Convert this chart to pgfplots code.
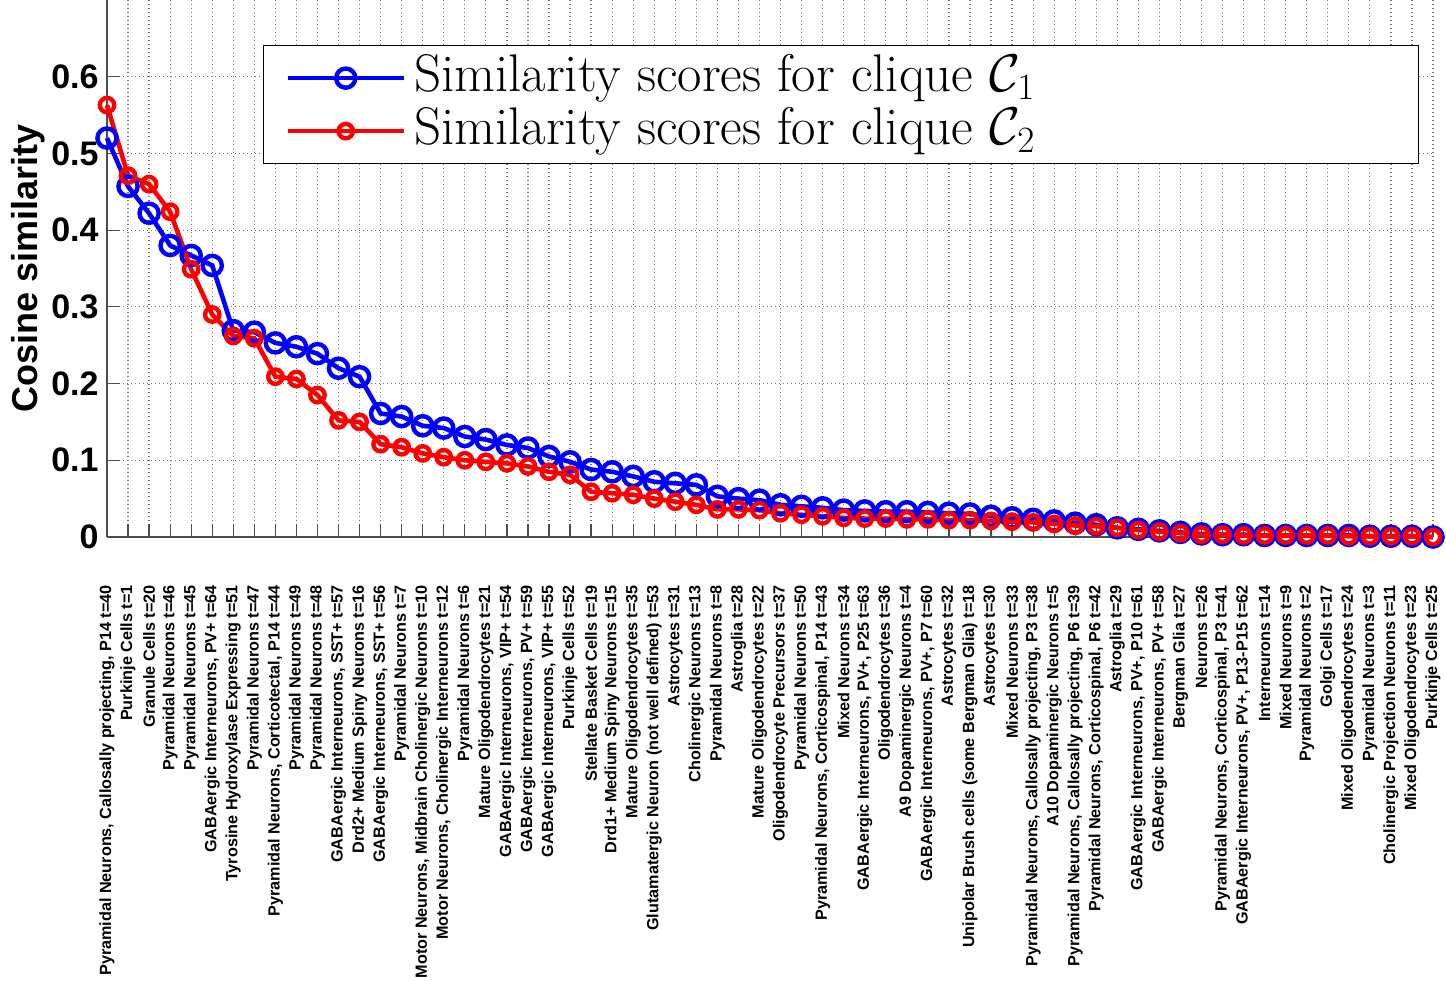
\documentclass[border=0pt]{standalone}
\usepackage{fix-cm}
\usepackage{fontspec}
\usepackage{pgfplots}
\usepackage{pgfplotstable}
\pgfplotsset{compat=1.18}
\newfontfamily\lsans{Liberation Sans}

\pgfplotstableread{
x b r
1 0.520 0.563
2 0.457 0.471
3 0.422 0.460
4 0.380 0.424
5 0.367 0.349
6 0.354 0.290
7 0.269 0.262
8 0.267 0.259
9 0.253 0.209
10 0.248 0.206
11 0.239 0.185
12 0.220 0.152
13 0.209 0.150
14 0.161 0.121
15 0.157 0.117
16 0.145 0.109
17 0.142 0.104
18 0.131 0.100
19 0.127 0.098
20 0.120 0.096
21 0.116 0.092
22 0.105 0.085
23 0.098 0.081
24 0.088 0.059
25 0.085 0.057
26 0.079 0.055
27 0.072 0.050
28 0.070 0.046
29 0.068 0.042
30 0.053 0.036
31 0.050 0.036
32 0.048 0.035
33 0.042 0.031
34 0.040 0.029
35 0.038 0.027
36 0.035 0.025
37 0.034 0.024
38 0.033 0.024
39 0.033 0.023
40 0.032 0.023
41 0.031 0.022
42 0.030 0.022
43 0.027 0.021
44 0.025 0.020
45 0.023 0.019
46 0.021 0.017
47 0.018 0.015
48 0.016 0.014
49 0.012 0.012
50 0.010 0.009
51 0.008 0.007
52 0.006 0.005
53 0.004 0.003
54 0.003 0.003
55 0.003 0.002
56 0.002 0.002
57 0.002 0.002
58 0.002 0.002
59 0.002 0.002
60 0.002 0.001
61 0.001 0.001
62 0.001 0.001
63 0.001 0.001
64 0.000 0.000
}\simtable

\begin{document}
\begin{tikzpicture}
\begin{axis}[
  at={(0,0)}, anchor=south west,
  scale only axis, width=663bp, height=268.5bp,
  xmin=1, xmax=64, ymin=0, ymax=0.7,
  axis lines*=left,
  axis line style={black!70, line width=0.7bp},
  tick align=inside,
  major tick length=6.5bp,
  tick style={black!70, line width=0.6bp},
  grid=major,
  grid style={black!55, line width=0.6bp, dash pattern=on 0.6bp off 1.4bp},
  clip=false,
  ytick={0,0.1,0.2,0.3,0.4,0.5,0.6},
  yticklabels={0,0.1,0.2,0.3,0.4,0.5,0.6},
  yticklabel style={font=\lsans\bfseries\fontsize{17bp}{17bp}\selectfont, inner sep=0pt},
  yticklabel shift=4bp,
  ylabel={Cosine similarity},
  ylabel style={font=\lsans\bfseries\fontsize{18bp}{18bp}\selectfont, at={(axis description cs:-0.0596,0.5)}, anchor=center},
  xtick={1,...,64},
  xticklabels={
    {Pyramidal Neurons, Callosally projecting, P14 t=40},
    {Purkinje Cells t=1},
    {Granule Cells t=20},
    {Pyramidal Neurons t=46},
    {Pyramidal Neurons t=45},
    {GABAergic Interneurons, PV+ t=64},
    {Tyrosine Hydroxylase Expressing t=51},
    {Pyramidal Neurons t=47},
    {Pyramidal Neurons, Corticotectal, P14 t=44},
    {Pyramidal Neurons t=49},
    {Pyramidal Neurons t=48},
    {GABAergic Interneurons, SST+ t=57},
    {Drd2+ Medium Spiny Neurons t=16},
    {GABAergic Interneurons, SST+ t=56},
    {Pyramidal Neurons t=7},
    {Motor Neurons, Midbrain Cholinergic Neurons t=10},
    {Motor Neurons, Cholinergic Interneurons t=12},
    {Pyramidal Neurons t=6},
    {Mature Oligodendrocytes t=21},
    {GABAergic Interneurons, VIP+ t=54},
    {GABAergic Interneurons, PV+ t=59},
    {GABAergic Interneurons, VIP+ t=55},
    {Purkinje Cells t=52},
    {Stellate Basket Cells t=19},
    {Drd1+ Medium Spiny Neurons t=15},
    {Mature Oligodendrocytes t=35},
    {Glutamatergic Neuron (not well defined) t=53},
    {Astrocytes t=31},
    {Cholinergic Neurons t=13},
    {Pyramidal Neurons t=8},
    {Astroglia t=28},
    {Mature Oligodendrocytes t=22},
    {Oligodendrocyte Precursors t=37},
    {Pyramidal Neurons t=50},
    {Pyramidal Neurons, Corticospinal, P14 t=43},
    {Mixed Neurons t=34},
    {GABAergic Interneurons, PV+, P25 t=63},
    {Oligodendrocytes t=36},
    {A9 Dopaminergic Neurons t=4},
    {GABAergic Interneurons, PV+, P7 t=60},
    {Astrocytes t=32},
    {Unipolar Brush cells (some Bergman Glia) t=18},
    {Astrocytes t=30},
    {Mixed Neurons t=33},
    {Pyramidal Neurons, Callosally projecting, P3 t=38},
    {A10 Dopaminergic Neurons t=5},
    {Pyramidal Neurons, Callosally projecting, P6 t=39},
    {Pyramidal Neurons, Corticospinal, P6 t=42},
    {Astroglia t=29},
    {GABAergic Interneurons, PV+, P10 t=61},
    {GABAergic Interneurons, PV+ t=58},
    {Bergman Glia t=27},
    {Neurons t=26},
    {Pyramidal Neurons, Corticospinal, P3 t=41},
    {GABAergic Interneurons, PV+, P13-P15 t=62},
    {Interneurons t=14},
    {Mixed Neurons t=9},
    {Pyramidal Neurons t=2},
    {Golgi Cells t=17},
    {Mixed Oligodendrocytes t=24},
    {Pyramidal Neurons t=3},
    {Cholinergic Projection Neurons t=11},
    {Mixed Oligodendrocytes t=23},
    {Purkinje Cells t=25}},
  xticklabel style={font=\lsans\bfseries\fontsize{8.1bp}{8.1bp}\selectfont, rotate=90, anchor=east, inner sep=0pt},
  xticklabel shift=24bp,
  legend image code/.code={\draw[mark repeat=2,mark phase=2,#1] plot coordinates {(0bp,0bp) (29bp,0bp) (58bp,0bp)};},
  legend style={at={(axis description cs:0.1176,0.916)}, anchor=north west,
    draw=black, line width=0.5bp, fill=white,
    inner xsep=11bp, inner ysep=3bp, column sep=2bp,
    nodes={inner xsep=2bp, inner ysep=1bp, text height=19bp, text depth=5.5bp,
      font=\fontsize{26.5bp}{30bp}\selectfont}},
  legend cell align=left,
]
\addplot[blue, line width=2.3bp, mark=o, mark size=4.8bp, mark options={solid, line width=2.2bp}]
  table[x=x, y=b] {\simtable};
\addlegendentry{\makebox[489bp][l]{Similarity scores for clique $\mathcal{C}_1$}}
\addplot[red, line width=2.3bp, mark=o, mark size=3.6bp, mark options={solid, line width=2.2bp}]
  table[x=x, y=r] {\simtable};
\addlegendentry{\makebox[489bp][l]{Similarity scores for clique $\mathcal{C}_2$}}
\end{axis}
\pgfresetboundingbox
\path (-53.5bp,-222bp) rectangle (669.5bp,268.5bp);
\end{tikzpicture}
\end{document}
